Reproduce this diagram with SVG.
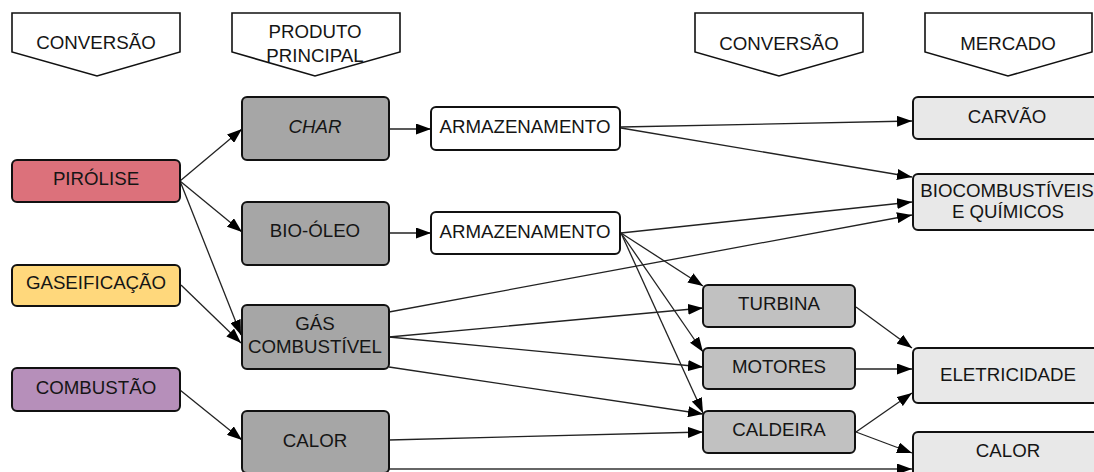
<svg xmlns="http://www.w3.org/2000/svg" width="1094" height="472" viewBox="0 0 1094 472">
<style>
text{font-family:"Liberation Sans",Arial,sans-serif;font-size:18.7px;fill:#151515;text-anchor:middle}
.hdr{fill:#fff;stroke:#111;stroke-width:1.6}
.box{stroke:#111;stroke-width:2}
.src1{fill:#dc717b}.src2{fill:#ffd87c}.src3{fill:#b68fba}
.prod{fill:#a6a6a6}.conv{fill:#c1c1c1}.mkt{fill:#e8e8e8}.store{fill:#fff}
.c path{fill:none;stroke:#222;stroke-width:1.3;marker-end:url(#ah)}
</style>
<defs>
<marker id="ah" markerUnits="userSpaceOnUse" markerWidth="15" markerHeight="11" refX="15" refY="5.5" orient="auto">
<path d="M0,0 L15,5.5 L0,11 z" fill="#000"/>
</marker>
</defs>
<rect width="1094" height="472" fill="#fff"/>
<g id="h1"><path class="hdr" d="M12,13 H180 V52 L97,76 L12,52 Z"/><text x="96" y="49">CONVERSÃO</text></g>
<g id="h2"><path class="hdr" d="M232,13 H400 V52 L315,76 L232,52 Z"/><text x="315" y="38">PRODUTO</text><text x="315" y="62">PRINCIPAL</text></g>
<g id="h3"><path class="hdr" d="M695,13 H863 V52 L779,76 L695,52 Z"/><text x="779" y="50">CONVERSÃO</text></g>
<g id="h4"><path class="hdr" d="M925,13 H1092 V52 L1008,76 L925,52 Z"/><text x="1008" y="50">MERCADO</text></g>

<g class="c" id="connectors">
<path d="M180,181 L242,129"/>
<path d="M180,181 L242,232"/>
<path d="M180,181 L241,335"/>
<path d="M181,285 L241,343"/>
<path d="M180,390 L242,440"/>
<path d="M389,129 L431,129"/>
<path d="M389,233 L431,233"/>
<path d="M621,127 L912,121"/>
<path d="M621,128 L912,177"/>
<path d="M621,233 L912,202"/>
<path d="M389,312 L912,215"/>
<path d="M621,233 L703,286"/>
<path d="M621,233 L703,352"/>
<path d="M621,233 L703,413"/>
<path d="M389,337 L703,308"/>
<path d="M389,337 L703,367"/>
<path d="M389,367 L703,414"/>
<path d="M389,440 L703,432"/>
<path d="M389,469 L912,469" style="stroke:#666;stroke-width:2"/>
<path d="M856,307 L912,348"/>
<path d="M856,369 L912,369"/>
<path d="M856,432 L912,393"/>
<path d="M856,432 L912,453"/>
</g>

<g id="pirolise"><rect class="box src1" x="12" y="160" width="168" height="42" rx="5"/><text x="96" y="185">PIRÓLISE</text></g>
<g id="gaseificacao"><rect class="box src2" x="12" y="265" width="168" height="41" rx="5"/><text x="96" y="289">GASEIFICAÇÃO</text></g>
<g id="combustao"><rect class="box src3" x="12" y="368" width="168" height="43" rx="5"/><text x="96" y="394">COMBUSTÃO</text></g>

<g id="char"><rect class="box prod" x="242" y="97" width="147" height="63" rx="5"/><text x="315" y="133" font-style="italic">CHAR</text></g>
<g id="biooleo"><rect class="box prod" x="242" y="202" width="147" height="63" rx="5"/><text x="315" y="237">BIO-ÓLEO</text></g>
<g id="gas"><rect class="box prod" x="242" y="305" width="147" height="64" rx="5"/><text x="315" y="330">GÁS</text><text x="315" y="353">COMBUSTÍVEL</text></g>
<g id="calor1"><rect class="box prod" x="242" y="411" width="147" height="62" rx="5"/><text x="315" y="447">CALOR</text></g>

<g id="armaz1"><rect class="box store" x="431" y="107" width="189" height="43" rx="5"/><text x="525" y="133">ARMAZENAMENTO</text></g>
<g id="armaz2"><rect class="box store" x="431" y="212" width="189" height="42" rx="5"/><text x="525" y="238">ARMAZENAMENTO</text></g>

<g id="turbina"><rect class="box conv" x="703" y="285" width="152" height="42" rx="5"/><text x="779" y="310">TURBINA</text></g>
<g id="motores"><rect class="box conv" x="703" y="348" width="152" height="41" rx="5"/><text x="779" y="373">MOTORES</text></g>
<g id="caldeira"><rect class="box conv" x="703" y="411" width="152" height="42" rx="5"/><text x="779" y="436">CALDEIRA</text></g>

<g id="carvao"><rect class="box mkt" x="913" y="97" width="190" height="42" rx="5"/><text x="1007" y="123">CARVÃO</text></g>
<g id="biocomb"><rect class="box mkt" x="913" y="174" width="190" height="56" rx="5"/><text x="1007" y="197">BIOCOMBUSTÍVEIS</text><text x="1008" y="218">E QUÍMICOS</text></g>
<g id="eletricidade"><rect class="box mkt" x="913" y="348" width="190" height="55" rx="5"/><text x="1008" y="381">ELETRICIDADE</text></g>
<g id="calor2"><rect class="box mkt" x="913" y="432" width="190" height="50" rx="5"/><text x="1008" y="457">CALOR</text></g>
</svg>
